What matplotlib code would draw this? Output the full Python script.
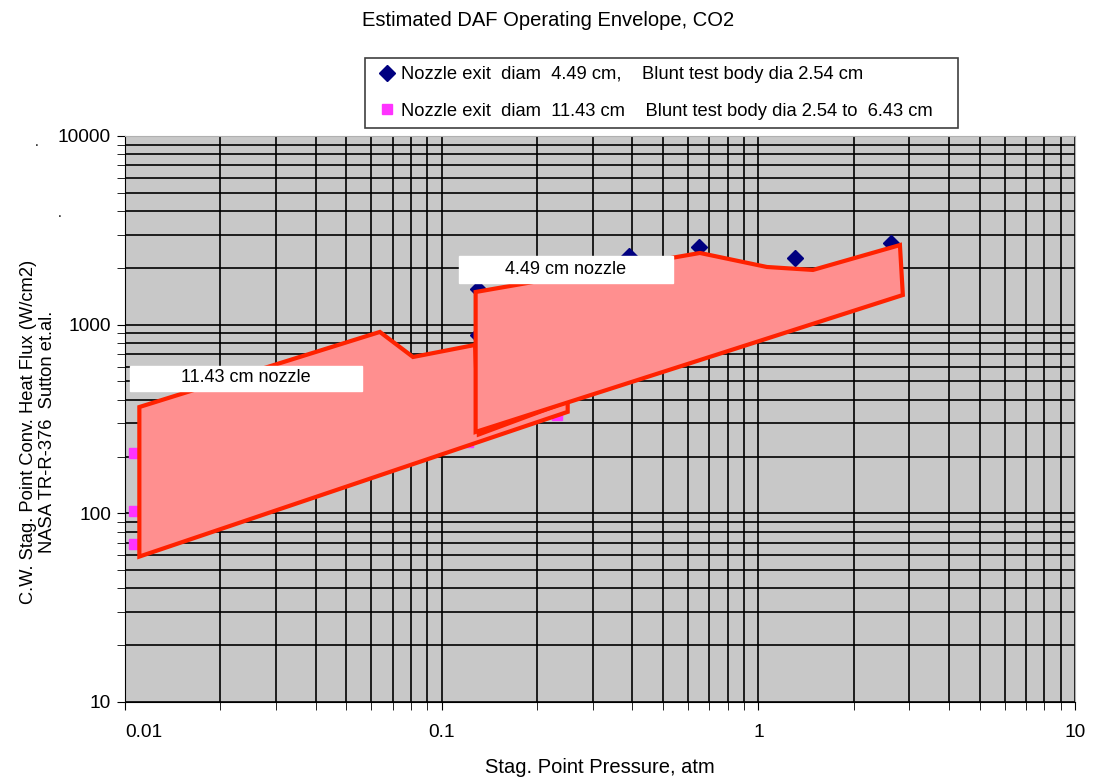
import matplotlib.pyplot as plt
from matplotlib.patches import Polygon

plt.rcParams['font.family'] = ['Liberation Sans', 'DejaVu Sans']

# nozzle 4.49 cm data (blue diamonds)
p_449 = [0.13, 0.13, 0.39, 0.65, 1.31, 2.62]
q_449 = [1540, 880, 2300, 2580, 2250, 2700]

# nozzle 11.43 cm data (magenta squares)
p_1143 = [0.0107, 0.0107, 0.0107, 0.121, 0.231]
q_1143 = [209, 103, 69, 240, 331]

# envelope outlines
env_1143_p = [0.0111, 0.0638, 0.0812, 0.1275, 0.131, 0.25, 0.25, 0.0111]
env_1143_q = [366, 915, 674, 781, 262, 392, 345, 59]
env_449_p = [0.128, 0.654, 1.064, 1.487, 2.80, 2.86, 0.128]
env_449_q = [1490, 2399, 2022, 1950, 2642, 1436, 270]

x_ticks = [0.01, 0.1, 1, 10]
x_ticklabels = ['0.01', '0.1', '1', '10']
y_ticks = [10, 100, 1000, 10000]
y_ticklabels = ['10', '100', '1000', '10000']

fig = plt.figure(figsize=(10.96, 7.79), dpi=100)
ax = fig.add_axes([125 / 1096, 1 - 702 / 779, 950 / 1096, 566 / 779])
ax.set_facecolor('#c8c8c8')
ax.set_xscale('log')
ax.set_yscale('log')
ax.set_xlim(0.01, 10)
ax.set_ylim(10, 10000)

ax.grid(True, which='both', color='black', linewidth=1.2)
ax.set_axisbelow(True)

ax.plot(p_449, q_449, linestyle='none', marker='D', color='#000080',
        markersize=8.5, label='Nozzle exit  diam  4.49 cm,    Blunt test body dia 2.54 cm', zorder=3)
ax.plot(p_1143, q_1143, linestyle='none', marker='s', color='#ff33ff',
        markersize=7, label='Nozzle exit  diam  11.43 cm    Blunt test body dia 2.54 to  6.43 cm', zorder=3)

for ps, qs, z in [(env_1143_p, env_1143_q, 4), (env_449_p, env_449_q, 5)]:
    poly = Polygon(list(zip(ps, qs)), closed=True, facecolor='#ff8f8f',
                   edgecolor='#ff2200', linewidth=3, joinstyle='miter', zorder=z)
    ax.add_patch(poly)

# label boxes
ax.fill([0.01037, 0.05604, 0.05604, 0.01037], [446, 446, 604, 604], color='white', zorder=6)
ax.text(0.0241, 522, '11.43 cm nozzle', ha='center', va='center', fontsize=13, zorder=7)
ax.fill([0.1134, 0.5375, 0.5375, 0.1134], [1664, 1664, 2312, 2312], color='white', zorder=6)
ax.text(0.2469, 1950, '4.49 cm nozzle', ha='center', va='center', fontsize=13, zorder=7)

ax.set_xticks(x_ticks)
ax.set_xticklabels(x_ticklabels)
ax.get_xticklabels()[0].set_horizontalalignment('left')
ax.set_yticks(y_ticks)
ax.set_yticklabels(y_ticklabels)
ax.tick_params(which='both', direction='out', color='black', labelsize=13.8, length=6)
ax.tick_params(axis='x', which='major', pad=10)
ax.tick_params(axis='y', which='major', pad=4)
ax.tick_params(axis='y', which='minor', labelleft=False)
ax.tick_params(axis='x', which='minor', labelbottom=False)
ax.spines['left'].set_color('black')
ax.spines['bottom'].set_color('black')
ax.spines['top'].set_color('#b0b0b0')
ax.spines['right'].set_color('#b0b0b0')

ax.set_xlabel('Stag. Point Pressure, atm', fontsize=14.5, labelpad=12)
fig.text(38 / 1096, 1 - 432 / 779,
         'C.W. Stag. Point Conv. Heat Flux (W/cm2)\nNASA TR-R-376  Sutton et.al.',
         rotation=90, ha='center', va='center', fontsize=13.2, multialignment='center')
fig.text(0.5, 1 - 20 / 779, 'Estimated DAF Operating Envelope, CO2', ha='center', va='center', fontsize=14.5)
fig.text(0.032, 0.812, '.', fontsize=10)
fig.text(0.053, 0.722, '.', fontsize=10)

leg = fig.legend(loc='upper left', bbox_to_anchor=(365 / 1096, 1 - 128 / 779, 593 / 1096, 70 / 779),
                 mode='expand', fancybox=False, edgecolor='#404040', framealpha=1,
                 handlelength=1.5, handletextpad=0.0, borderpad=0.45, labelspacing=1.05,
                 fontsize=13.2, borderaxespad=0, numpoints=1)
leg.get_frame().set_linewidth(1.2)

fig.savefig('out.png', dpi=100)
